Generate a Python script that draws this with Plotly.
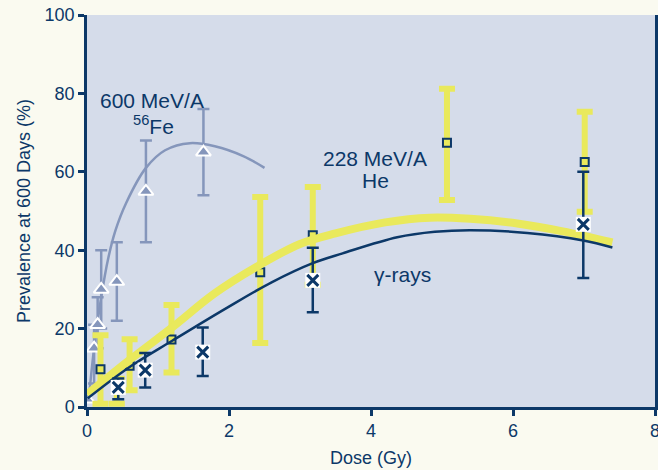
import plotly.graph_objects as go

# ---------------- data ----------------
# Fe-56 (600 MeV/A) data points
fe_dose = [0.0, 0.1, 0.15, 0.2, 0.42, 0.83, 1.64]
fe_prev = [2, 15, 21, 30, 32, 55, 65]
fe_hi = [2, 21, 28, 40, 42, 68, 76]
fe_lo = [2, 6, 15, 20, 22, 42, 54]
# Fe fitted curve
fe_curve_x = [0.03, 0.1, 0.2, 0.3, 0.4, 0.55, 0.83, 1.1, 1.45, 1.8, 2.2, 2.5]
fe_curve_y = [3, 15, 28, 38, 45, 52, 61, 65.5, 67.3, 66.5, 64, 61]

# He (228 MeV/A) data points
he_dose = [0.19, 0.42, 0.6, 1.19, 2.44, 3.18, 5.07, 7.01]
he_prev = [9.6, 4.8, 10.5, 17.2, 34.4, 43.8, 67.4, 62.5]
he_hi = [18.3, 7.2, 17.3, 26, 53.6, 56.1, 81.2, 75.3]
he_lo = [0.8, 0.8, 4.3, 8.8, 16.3, 31.2, 52.8, 49.8]
he_curve_x = [0.0, 0.6, 1.2, 1.8, 2.44, 3.0, 3.5, 4.2, 4.83, 5.4, 6.06, 6.7, 7.4]
he_curve_y = [3.2, 12.0, 20.3, 29.0, 36.3, 41.6, 44.3, 47.1, 48.3, 48.0, 46.8, 44.8, 42.0]

# gamma-ray data points
g_dose = [0.44, 0.82, 1.63, 3.18, 6.99]
g_prev = [5.0, 9.4, 14.0, 32.3, 46.6]
g_hi = [7.3, 13.8, 20.3, 40.6, 60]
g_lo = [2.0, 5.0, 7.9, 24.2, 32.9]
g_curve_x = [0.01, 0.6, 1.2, 1.97, 2.6, 3.18, 3.6, 4.37, 4.9, 5.4, 6.2, 6.99, 7.4]
g_curve_y = [2.2, 10.2, 16.9, 25.3, 31.8, 36.7, 39.2, 43.3, 44.7, 45.1, 44.4, 42.5, 40.7]

x_ticks = [0, 2, 4, 6, 8]
y_ticks = [0, 20, 40, 60, 80, 100]

NAVY = "#0c3868"
FE = "#8596bb"
YEL = "#e9e95c"
PAPER = "#fafaf0"
FONT = "Liberation Sans, Arial, sans-serif"


def up(hi, v):
    return [h - a for h, a in zip(hi, v)]


def down(lo, v):
    return [a - l for l, a in zip(lo, v)]


fig = go.Figure()

# Fe curve and error bars
fig.add_trace(go.Scatter(x=fe_curve_x, y=fe_curve_y, mode="lines",
                         line=dict(color=FE, width=2.5, shape="spline"),
                         hoverinfo="skip"))
fig.add_trace(go.Scatter(
    x=fe_dose, y=fe_prev, mode="markers",
    marker=dict(symbol="triangle-up", size=13, color=FE,
                line=dict(color="white", width=2)),
    error_y=dict(type="data", symmetric=False,
                 array=up(fe_hi, fe_prev), arrayminus=down(fe_lo, fe_prev),
                 color=FE, thickness=2.5, width=6)))

# He error bars (yellow) with squares, then the curve on top
fig.add_trace(go.Scatter(
    x=he_dose, y=he_prev, mode="markers",
    marker=dict(symbol="square", size=8, color=YEL,
                line=dict(color=NAVY, width=2)),
    error_y=dict(type="data", symmetric=False,
                 array=up(he_hi, he_prev), arrayminus=down(he_lo, he_prev),
                 color=YEL, thickness=6, width=8)))
fig.add_trace(go.Scatter(x=he_curve_x, y=he_curve_y, mode="lines",
                         line=dict(color=YEL, width=8, shape="spline"),
                         hoverinfo="skip"))

# gamma error bars and curve
fig.add_trace(go.Scatter(
    x=g_dose, y=g_prev, mode="markers",
    marker=dict(size=1, color=NAVY, opacity=0),
    error_y=dict(type="data", symmetric=False,
                 array=up(g_hi, g_prev), arrayminus=down(g_lo, g_prev),
                 color=NAVY, thickness=2.5, width=6)))
fig.add_trace(go.Scatter(x=g_curve_x, y=g_curve_y, mode="lines",
                         line=dict(color=NAVY, width=2.5, shape="spline"),
                         hoverinfo="skip"))

# gamma X with white backing
fig.add_trace(go.Scatter(
    x=g_dose, y=g_prev, mode="markers",
    marker=dict(symbol="square", size=15, color="white", line=dict(width=0))))
fig.add_trace(go.Scatter(
    x=g_dose, y=g_prev, mode="markers",
    marker=dict(symbol="x-thin", size=11, color=NAVY,
                line=dict(color=NAVY, width=3))))

ann_font = dict(family=FONT, size=21, color=NAVY)
fig.add_annotation(x=0.915, y=78.3, text="600 MeV/A", showarrow=False, font=ann_font)
fig.add_annotation(x=0.94, y=72.0, text="<sup>56</sup>Fe", showarrow=False, font=ann_font)
fig.add_annotation(x=4.06, y=63.5, text="228 MeV/A", showarrow=False, font=ann_font)
fig.add_annotation(x=4.06, y=57.9, text="He", showarrow=False, font=ann_font)
fig.add_annotation(x=4.45, y=33.7, text="γ-rays", showarrow=False, font=ann_font)

fig.update_layout(
    width=658, height=470,
    paper_bgcolor=PAPER,
    plot_bgcolor="#d5dcea",
    showlegend=False,
    margin=dict(l=87, r=3, t=15, b=63),
    font=dict(family=FONT, color=NAVY, size=18),
    xaxis=dict(range=[0, 8], tickvals=x_ticks, ticktext=[str(v) for v in x_ticks],
               showgrid=False, zeroline=False, showline=True, linecolor=NAVY,
               linewidth=2.5, ticks="outside", ticklen=6, tickwidth=2.5,
               tickcolor=NAVY, tickfont=dict(size=18, color=NAVY),
               automargin=False, ticklabeloverflow="allow",
               title=dict(text="Dose (Gy)", font=dict(size=18, color=NAVY),
                          standoff=12)),
    yaxis=dict(range=[0, 100], tickvals=y_ticks, ticktext=[str(v) for v in y_ticks],
               showgrid=False, zeroline=False, showline=True, linecolor=NAVY,
               linewidth=2.5, mirror=True, ticks="outside", ticklen=6, tickwidth=2.5,
               tickcolor=NAVY, tickfont=dict(size=18, color=NAVY),
               automargin=False,
               title=dict(text="Prevalence at 600 Days (%)",
                          font=dict(size=18, color=NAVY), standoff=10)),
)

fig.write_html(
    "out.html",
    config={"displayModeBar": False},
    post_script="document.body.style.margin='0';"
                "document.body.style.background='" + PAPER + "';"
                "document.body.style.overflow='hidden';",
)
